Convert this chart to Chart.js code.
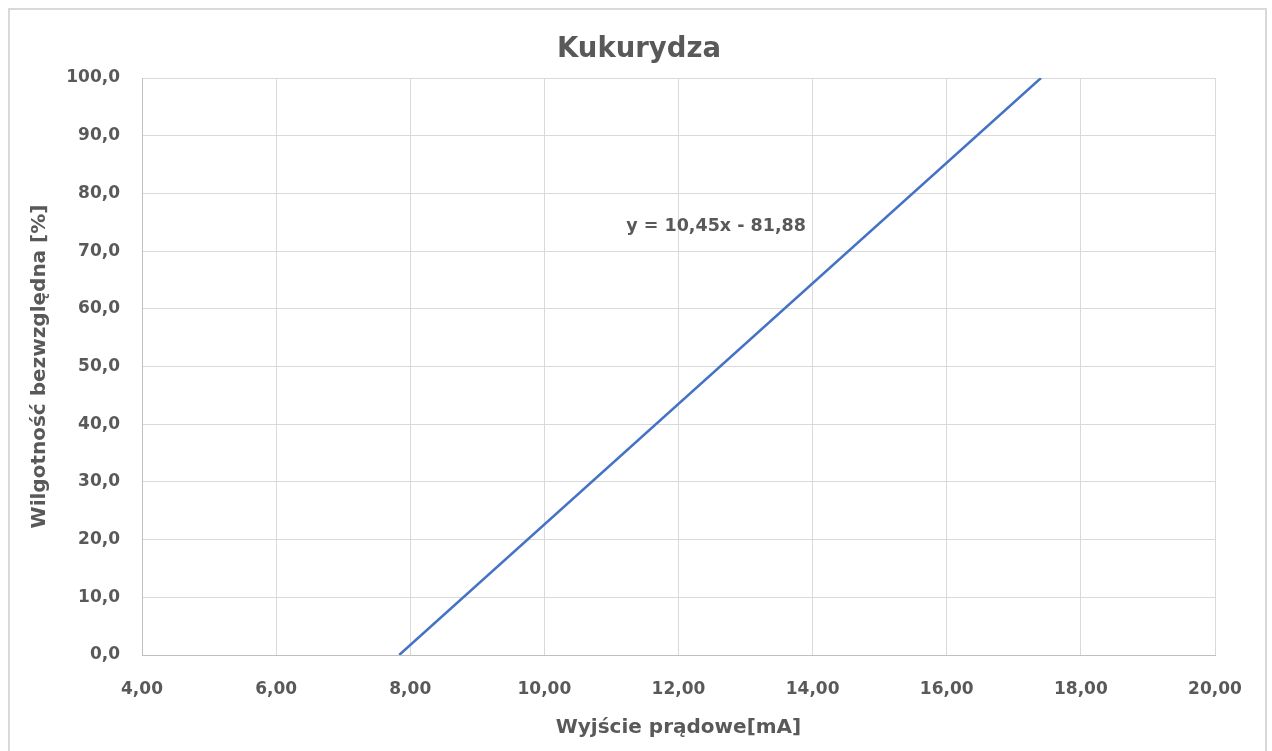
<!DOCTYPE html>
<html>
<head>
<meta charset="utf-8">
<script src="https://cdn.jsdelivr.net/npm/chart.js@4"></script>
<style>
  body { margin: 0; background: #fff; }
  #wrap { position: relative; width: 1272px; height: 751px; overflow: hidden; }
  #frame { position: absolute; left: 8px; top: 8px; width: 1255px; height: 760px; border: 2px solid #d9d9d9; pointer-events: none; }
</style>
</head>
<body>
<div id="wrap">
  <canvas id="chart" width="1272" height="751"></canvas>
  <div id="frame"></div>
</div>
<script>
// Data
const currentMA = [7.835, 17.405];
const moisture = [0, 100];
const xTicks = [4, 6, 8, 10, 12, 14, 16, 18, 20];
const yTicks = [0, 10, 20, 30, 40, 50, 60, 70, 80, 90, 100];
const chartTitle = 'Kukurydza';
const trendText = 'y = 10,45x - 81,88';
const trendAt = { x: 12.56, y: 74.2 };

const textColor = '#595959';
const fontFamily = '"DejaVu Sans", sans-serif';

// Title centred on the page + trendline equation label
const extraText = {
    id: 'extraText',
    afterDatasetsDraw(chart) {
        const c = chart.ctx;
        c.save();
        c.fillStyle = textColor;
        c.textAlign = 'center';
        c.textBaseline = 'middle';
        c.font = 'bold 27.5px ' + fontFamily;
        c.fillText(chartTitle, chart.width / 2 + 3, 50);
        const px = chart.scales.x.getPixelForValue(trendAt.x);
        const py = chart.scales.y.getPixelForValue(trendAt.y);
        c.font = 'bold 17.5px ' + fontFamily;
        c.fillText(trendText, px, py);
        c.restore();
    }
};

const ctx = document.getElementById('chart').getContext('2d');
new Chart(ctx, {
    type: 'scatter',
    data: {
        datasets: [{
            label: chartTitle,
            data: currentMA.map((x, i) => ({ x: x, y: moisture[i] })),
            showLine: true,
            borderColor: '#4472c4',
            borderWidth: 2.5,
            pointRadius: 0,
            fill: false
        }]
    },
    plugins: [extraText],
    options: {
        responsive: false,
        animation: false,
        layout: { padding: { left: 0, right: 57, top: 78, bottom: 0 } },
        plugins: {
            legend: { display: false },
            tooltip: { enabled: false },
            title: { display: false }
        },
        scales: {
            x: {
                type: 'linear',
                min: 4,
                max: 20,
                afterBuildTicks: axis => { axis.ticks = xTicks.map(v => ({ value: v })); },
                afterFit: axis => { axis.height = 96; },
                ticks: {
                    color: textColor,
                    font: { family: fontFamily, size: 17, weight: 'bold' },
                    padding: 24,
                    maxRotation: 0,
                    callback: v => v.toFixed(2).replace('.', ',')
                },
                grid: { color: '#d9d9d9', lineWidth: 1, drawTicks: false },
                border: { color: '#bfbfbf', width: 1 },
                title: {
                    display: true,
                    text: 'Wyjście prądowe[mA]',
                    color: textColor,
                    font: { family: fontFamily, size: 20, weight: 'bold' },
                    padding: { top: 0, bottom: 11 }
                }
            },
            y: {
                type: 'linear',
                min: 0,
                max: 100,
                afterBuildTicks: axis => { axis.ticks = yTicks.map(v => ({ value: v })); },
                afterFit: axis => { axis.width = 142; },
                ticks: {
                    color: textColor,
                    font: { family: fontFamily, size: 17, weight: 'bold' },
                    padding: 22,
                    callback: v => v.toFixed(1).replace('.', ',')
                },
                grid: { color: '#d9d9d9', lineWidth: 1, drawTicks: false },
                border: { color: '#bfbfbf', width: 1 },
                title: {
                    display: true,
                    text: 'Wilgotność bezwzględna [%]',
                    color: textColor,
                    font: { family: fontFamily, size: 20, weight: 'bold' },
                    padding: { top: 28, bottom: 0 }
                }
            }
        }
    }
});
</script>
</body>
</html>
